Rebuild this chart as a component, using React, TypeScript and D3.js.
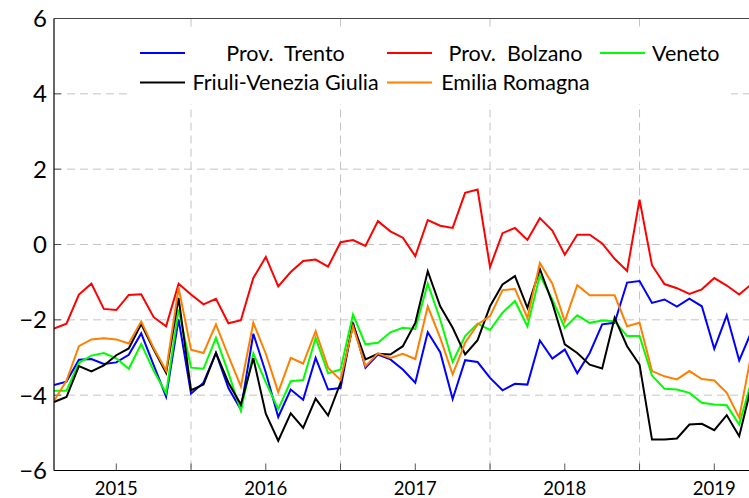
import React from "react";
import * as d3 from "d3";

// monthly series, first point = Aug 2014
const startYear = 2014;
const startMonth = 8;

const trento = [
  -3.73, -3.64, -3.06, -3.04, -3.17, -3.13, -2.93, -2.36, -3.2, -4.04,
  -1.99, -3.96, -3.67, -2.88, -3.81, -4.38, -2.37, -3.4, -4.58, -3.85,
  -4.12, -3.01, -3.85, -3.81, -2.08, -3.27, -2.92, -3.05, -3.32, -3.67,
  -2.33, -2.86, -4.1, -3.07, -3.12, -3.54, -3.87, -3.7, -3.72, -2.55,
  -3.03, -2.79, -3.42, -2.88, -2.12, -2.08, -1.01, -0.97, -1.55, -1.46,
  -1.65, -1.44, -1.64, -2.77, -1.88, -3.08, -2.3,
];
const bolzano = [
  -2.23, -2.1, -1.33, -1.04, -1.71, -1.74, -1.34, -1.32, -1.93, -2.17,
  -1.04, -1.33, -1.59, -1.44, -2.09, -2.01, -0.89, -0.33, -1.11, -0.73,
  -0.44, -0.4, -0.59, 0.06, 0.12, -0.04, 0.62, 0.35, 0.18, -0.31,
  0.65, 0.5, 0.44, 1.37, 1.46, -0.6, 0.3, 0.44, 0.12, 0.7,
  0.37, -0.27, 0.26, 0.26, 0.03, -0.38, -0.7, 1.19, -0.55, -1.05,
  -1.16, -1.31, -1.19, -0.89, -1.09, -1.33, -1.05,
];
const veneto = [
  -3.88, -3.88, -3.14, -2.95, -2.88, -3.02, -3.3, -2.64, -3.35, -3.95,
  -1.73, -3.27, -3.3, -2.48, -3.41, -4.42, -2.89, -3.66, -4.37, -3.63,
  -3.6, -2.48, -3.42, -3.32, -1.86, -2.65, -2.61, -2.33, -2.21, -2.24,
  -1.04, -1.99, -3.12, -2.43, -2.1, -2.27, -1.81, -1.5, -2.17, -0.82,
  -1.46, -2.21, -1.88, -2.08, -2.02, -2.04, -2.43, -2.43, -3.48, -3.83,
  -3.85, -3.94, -4.2, -4.25, -4.27, -4.78, -3.6,
];
const friuli = [
  -4.18, -4.05, -3.23, -3.37, -3.21, -2.94, -2.76, -2.11, -2.78, -3.41,
  -1.42, -3.87, -3.72, -2.88, -3.67, -4.25, -3.02, -4.49, -5.21, -4.48,
  -4.87, -4.09, -4.54, -3.67, -2.12, -3.05, -2.9, -2.92, -2.7, -2.08,
  -0.71, -1.64, -2.21, -2.92, -2.54, -1.64, -1.06, -0.84, -1.68, -0.65,
  -1.55, -2.65, -2.88, -3.19, -3.29, -1.95, -2.7, -3.19, -5.18, -5.18,
  -5.15, -4.78, -4.76, -4.93, -4.53, -5.09, -3.73,
];
const emilia = [
  -4.15, -3.62, -2.7, -2.52, -2.49, -2.52, -2.63, -2.04, -2.75, -3.35,
  -1.15, -2.79, -2.88, -2.12, -2.96, -3.77, -2.08, -2.9, -3.92, -3.01,
  -3.16, -2.3, -3.27, -3.6, -2.17, -3.23, -2.89, -3.01, -2.9, -3.04,
  -1.64, -2.48, -3.45, -2.61, -2.12, -1.9, -1.21, -1.18, -1.95, -0.49,
  -1.04, -2.04, -1.08, -1.35, -1.35, -1.35, -2.17, -2.08, -3.36, -3.5,
  -3.58, -3.36, -3.57, -3.61, -3.94, -4.6, -2.86,
];

const seriesNames = [
  "Prov.\u00a0\u00a0Trento",
  "Prov.\u00a0\u00a0Bolzano",
  "Veneto",
  "Friuli-Venezia Giulia",
  "Emilia Romagna",
];
const seriesValues = [trento, bolzano, veneto, friuli, emilia];
const seriesColors = ["#0000ff", "#ff0000", "#00ff00", "#000000", "#ff8000"];

const yearTicks = [2015, 2016, 2017, 2018, 2019];
const gridYears = [2015.5, 2016.5, 2017.5, 2018.5];
const yTicks = [-6, -4, -2, 0, 2, 4, 6];

const W = 749;
const H = 498;
const left = 54;
const top = 18.5;
const bottom = 470.5;
const font = "Lato, 'Open Sans', sans-serif";

export default function App() {
  const t0 = startYear + (startMonth - 1) / 12;
  const pxPerYear = 149.5;
  const x = d3
    .scaleLinear()
    .domain([t0, 2015])
    .range([left, left + (2015 - t0) * pxPerYear]);
  const y = d3.scaleLinear().domain([-6, 6]).range([bottom, top]);

  const line = d3
    .line<number>()
    .x((_, i) => x(t0 + i / 12))
    .y((d) => y(d));

  const legendRows = [
    [
      { i: 0, lx: 140, tx: 285.5, anchor: "middle" },
      { i: 1, lx: 387, tx: 515.5, anchor: "middle" },
      { i: 2, lx: 600, tx: 652, anchor: "start" },
    ],
    [
      { i: 3, lx: 140, tx: 285.5, anchor: "middle" },
      { i: 4, lx: 387, tx: 515.5, anchor: "middle" },
    ],
  ];

  return (
    <svg
      width={W}
      height={H}
      style={{ position: "absolute", left: 0, top: 0, background: "#fff" }}
    >
      <defs>
        <clipPath id="plot">
          <rect x={left} y={top - 2} width={W - left} height={bottom - top + 4} />
        </clipPath>
      </defs>

      {/* grid */}
      <g stroke="#c4c4c4" strokeWidth={1} strokeDasharray="8,5">
        {yTicks.slice(1, -1).map((v) => (
          <line key={v} x1={left} x2={W} y1={y(v)} y2={y(v)} />
        ))}
        {gridYears.map((v) => (
          <line key={v} x1={x(v)} x2={x(v)} y1={top} y2={bottom} />
        ))}
      </g>

      {/* ticks */}
      <g stroke="#555" strokeWidth={1}>
        {yTicks.map((v) => (
          <line key={v} x1={left} x2={left + 7} y1={y(v)} y2={y(v)} />
        ))}
        {[...yearTicks, ...gridYears].map((v) => (
          <line key={v} x1={x(v)} x2={x(v)} y1={bottom} y2={bottom - 7} />
        ))}
      </g>

      {/* series */}
      <g clipPath="url(#plot)" fill="none" strokeWidth={2} strokeLinejoin="miter">
        {seriesValues.map((vals, i) => (
          <path key={i} d={line(vals) || ""} stroke={seriesColors[i]} />
        ))}
      </g>

      {/* frame */}
      <line x1={left} x2={W} y1={top} y2={top} stroke="#444" strokeWidth={1.2} />
      <line x1={left} x2={W} y1={bottom} y2={bottom} stroke="#000" strokeWidth={1.2} />
      <line x1={left} x2={left} y1={top} y2={bottom} stroke="#000" strokeWidth={1.2} />

      {/* legend */}
      <rect x={127} y={28} width={604} height={76} fill="#fff" />
      {legendRows.map((row, r) =>
        row.map((e) => {
          const ly = 53 + r * 29.5;
          return (
            <g key={e.i}>
              <line
                x1={e.lx}
                x2={e.lx + 45}
                y1={ly}
                y2={ly}
                stroke={seriesColors[e.i]}
                strokeWidth={2}
              />
              <text
                x={e.tx}
                y={ly}
                dy="0.35em"
                textAnchor={e.anchor}
                fontFamily={font}
                fontSize={21.5}
                fill="#000"
              >
                {seriesNames[e.i]}
              </text>
            </g>
          );
        })
      )}

      {/* axis labels */}
      {yTicks.map((v) => (
        <text
          key={v}
          x={47}
          y={y(v)}
          dy="0.36em"
          textAnchor="end"
          fontFamily={font}
          fontSize={24}
        >
          {v < 0 ? "\u2212" + Math.abs(v) : v}
        </text>
      ))}
      {yearTicks.map((v) => (
        <text
          key={v}
          x={x(v)}
          y={495}
          textAnchor="middle"
          fontFamily={font}
          fontSize={18.5}
        >
          {v}
        </text>
      ))}
    </svg>
  );
}
